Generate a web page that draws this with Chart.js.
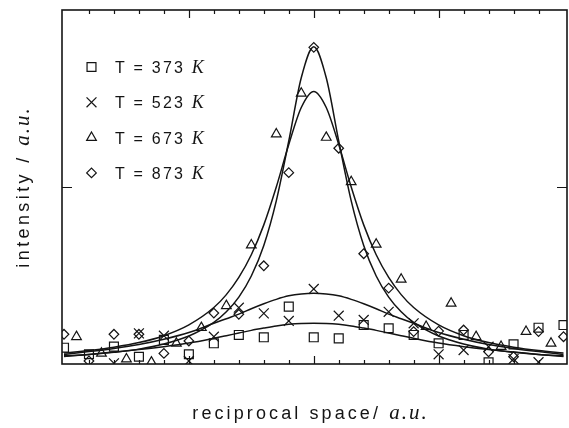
<!DOCTYPE html>
<html>
<head>
<meta charset="utf-8">
<script src="https://cdn.jsdelivr.net/npm/chart.js@4.4.0/dist/chart.umd.min.js"></script>
<style>
  html, body { margin: 0; padding: 0; background: #fff; }
  #plot { display: block; }
</style>
</head>
<body>
<canvas id="plot" width="569" height="428"></canvas>
<script>
// temperatures of the four scans (K)
var temps = ['373', '523', '673', '873'];

// scan positions: squares, crosses and diamonds sit on whole steps, triangles half a step over
var gridX = [0, 1, 2, 3, 4, 5, 6, 7, 8, 9, 10, 11, 12, 13, 14, 15, 16, 17, 18, 19, 20];
var triX = [0.5, 1.5, 2.5, 3.5, 4.5, 5.5, 6.5, 7.5, 8.5, 9.5, 10.5, 11.5, 12.5, 13.5, 14.5, 15.5, 16.5, 17.5, 18.5, 19.5];

// measured intensities
var sq373 = [0.092, 0.055, 0.098, 0.041, 0.136, 0.055, 0.117, 0.164, 0.151, 0.324, 0.151,
             0.145, 0.220, 0.202, 0.164, 0.117, 0.164, 0.010, 0.111, 0.205, 0.220];
var x523 = [null, null, 0.004, 0.173, 0.160, 0.017, 0.154, 0.318, 0.286, 0.243, 0.424,
            0.273, 0.249, 0.295, 0.230, 0.055, 0.079, 0.098, 0.028, 0.010, null];
var tri673 = [0.154, 0.060, 0.028, 0.010, 0.117, 0.205, 0.329, 0.672, 1.299, 1.529,
              1.280, 1.029, 0.676, 0.478, 0.211, 0.343, 0.154, 0.098, 0.183, 0.117];
var dia873 = [0.168, 0.017, 0.168, 0.168, 0.060, 0.130, 0.288, 0.281, 0.555, 1.081, 1.789,
              1.219, 0.623, 0.429, 0.183, 0.186, 0.192, 0.069, 0.041, 0.183, 0.154];

// fitted profiles
var fitX = [0, 1, 2, 3, 4, 5, 6, 6.5, 7, 7.5, 8, 8.5, 9, 9.5, 10, 10.5, 11, 11.5, 12, 12.5, 13, 13.5, 14, 15, 16, 17, 18, 19, 20];
var fit373 = [0.042, 0.054, 0.068, 0.082, 0.098, 0.118, 0.145, 0.160, 0.175, 0.190, 0.203, 0.215, 0.224, 0.229, 0.230,
              0.229, 0.224, 0.215, 0.203, 0.190, 0.175, 0.160, 0.145, 0.118, 0.098, 0.082, 0.068, 0.054, 0.042];
var fit523 = [0.054, 0.070, 0.088, 0.110, 0.140, 0.178, 0.230, 0.256, 0.282, 0.312, 0.340, 0.365, 0.385, 0.396, 0.400,
              0.396, 0.385, 0.365, 0.340, 0.312, 0.282, 0.256, 0.230, 0.178, 0.140, 0.110, 0.088, 0.070, 0.054];
var fit673 = [0.062, 0.076, 0.095, 0.121, 0.160, 0.221, 0.319, 0.392, 0.489, 0.617, 0.786, 1.000, 1.240, 1.449, 1.540,
              1.449, 1.240, 1.000, 0.786, 0.617, 0.489, 0.392, 0.319, 0.221, 0.160, 0.121, 0.095, 0.076, 0.062];
var fit873 = [0.046, 0.053, 0.066, 0.084, 0.113, 0.158, 0.235, 0.295, 0.378, 0.497, 0.670, 0.922, 1.260, 1.617, 1.792,
              1.617, 1.260, 0.922, 0.670, 0.497, 0.378, 0.295, 0.235, 0.158, 0.113, 0.084, 0.066, 0.053, 0.046];

// axis tick positions (no labels on this plot)
var xTicks = [1, 2, 3, 4, 5, 6, 7, 8, 9, 10, 11, 12, 13, 14, 15, 16, 17, 18, 19];
var xMajor = [5, 10, 15];
var yTicks = [1];

var INK = '#141414';
var SANS = '"Liberation Sans", Arial, sans-serif';
var SERIF = '"Liberation Serif", "DejaVu Serif", serif';

function pts(xs, ys) {
    var out = [];
    for (var i = 0; i < xs.length; i++) {
        if (ys[i] !== null) out.push({x: xs[i], y: ys[i]});
    }
    return out;
}

var markers = [
    {data: pts(gridX, sq373),  style: 'rect',     radius: 6.3},
    {data: pts(gridX, x523),   style: 'crossRot', radius: 7},
    {data: pts(triX, tri673),  style: 'triangle', radius: 5.6},
    {data: pts(gridX, dia873), style: 'rectRot',  radius: 4.8}
];
var fits = [fit373, fit523, fit673, fit873];

var datasets = [];
fits.forEach(function(f) {
    datasets.push({
        data: pts(fitX, f),
        showLine: true,
        borderColor: INK,
        borderWidth: 1.5,
        pointRadius: 0,
        cubicInterpolationMode: 'monotone'
    });
});
markers.forEach(function(m) {
    datasets.push({
        data: m.data,
        showLine: false,
        pointStyle: m.style,
        pointRadius: m.radius,
        pointHoverRadius: m.radius,
        pointBorderWidth: 1.2,
        pointBorderColor: INK,
        pointBackgroundColor: 'rgba(0,0,0,0)'
    });
});

// draw a run of text pieces in different fonts one after another
function drawRun(ctx, parts, x, y, align) {
    var widths = parts.map(function(p) {
        ctx.font = p.font;
        ctx.letterSpacing = p.spacing || '0px';
        return ctx.measureText(p.text).width;
    });
    var total = widths.reduce(function(a, b) { return a + b; }, 0);
    var cx = align === 'center' ? x - total / 2 : x;
    ctx.textAlign = 'left';
    ctx.textBaseline = 'alphabetic';
    parts.forEach(function(p, i) {
        ctx.font = p.font;
        ctx.letterSpacing = p.spacing || '0px';
        ctx.fillText(p.text, cx, y);
        cx += widths[i];
    });
    ctx.letterSpacing = '0px';
}

var decor = {
    id: 'decor',
    afterDatasetsDraw: function(chart) {
        var ctx = chart.ctx;
        var a = chart.chartArea;
        var xs = chart.scales.x, ys = chart.scales.y;
        ctx.save();
        ctx.strokeStyle = INK;
        ctx.fillStyle = INK;

        // frame
        ctx.lineWidth = 1.6;
        ctx.strokeRect(a.left, a.top, a.right - a.left, a.bottom - a.top);

        // inward ticks
        ctx.lineWidth = 1.2;
        ctx.beginPath();
        xTicks.forEach(function(v) {
            var px = Math.round(xs.getPixelForValue(v)) + 0.5;
            var len = xMajor.indexOf(v) >= 0 ? 8 : 4;
            ctx.moveTo(px, a.top); ctx.lineTo(px, a.top + len);
            ctx.moveTo(px, a.bottom); ctx.lineTo(px, a.bottom - len);
        });
        yTicks.forEach(function(v) {
            var py = Math.round(ys.getPixelForValue(v)) + 0.5;
            ctx.moveTo(a.left, py); ctx.lineTo(a.left + 10, py);
            ctx.moveTo(a.right, py); ctx.lineTo(a.right - 10, py);
        });
        ctx.stroke();

        // key in the upper left corner
        var kx = a.left + 29.5, ky = a.top + 57, step = 35.3;
        markers.forEach(function(m, i) {
            var y = ky + i * step;
            ctx.lineWidth = 1.2;
            ctx.fillStyle = 'rgba(0,0,0,0)';
            Chart.helpers.drawPoint(ctx, {pointStyle: m.style, radius: m.radius, rotation: 0, borderWidth: 1.2}, kx, y);
            ctx.fillStyle = INK;
            drawRun(ctx, [
                {text: 'T = ' + temps[i] + ' ', font: '16px ' + SANS, spacing: '2.2px'},
                {text: 'K', font: 'italic 18px ' + SERIF, spacing: '0px'}
            ], a.left + 53, y + 6, 'left');
        });

        // axis titles
        var midX = (a.left + a.right) / 2 - 4;
        drawRun(ctx, [
            {text: 'reciprocal space/ ', font: '18px ' + SANS, spacing: '3.1px'},
            {text: 'a.u.', font: 'italic 21px ' + SERIF, spacing: '2px'}
        ], midX, 419, 'center');

        ctx.save();
        ctx.translate(29, (a.top + a.bottom) / 2);
        ctx.rotate(-Math.PI / 2);
        drawRun(ctx, [
            {text: 'intensity / ', font: '18px ' + SANS, spacing: '3.4px'},
            {text: 'a.u.', font: 'italic 21px ' + SERIF, spacing: '2px'}
        ], 0, 0, 'center');
        ctx.restore();

        ctx.restore();
    }
};

new Chart(document.getElementById('plot'), {
    type: 'scatter',
    data: {datasets: datasets},
    options: {
        responsive: false,
        animation: false,
        layout: {autoPadding: false, padding: {left: 62, top: 10, right: 2, bottom: 64}},
        plugins: {legend: {display: false}, tooltip: {enabled: false}},
        scales: {
            x: {type: 'linear', min: -0.08, max: 20.14, display: false},
            y: {type: 'linear', min: 0, max: 2, display: false}
        }
    },
    plugins: [decor]
});
</script>
</body>
</html>
